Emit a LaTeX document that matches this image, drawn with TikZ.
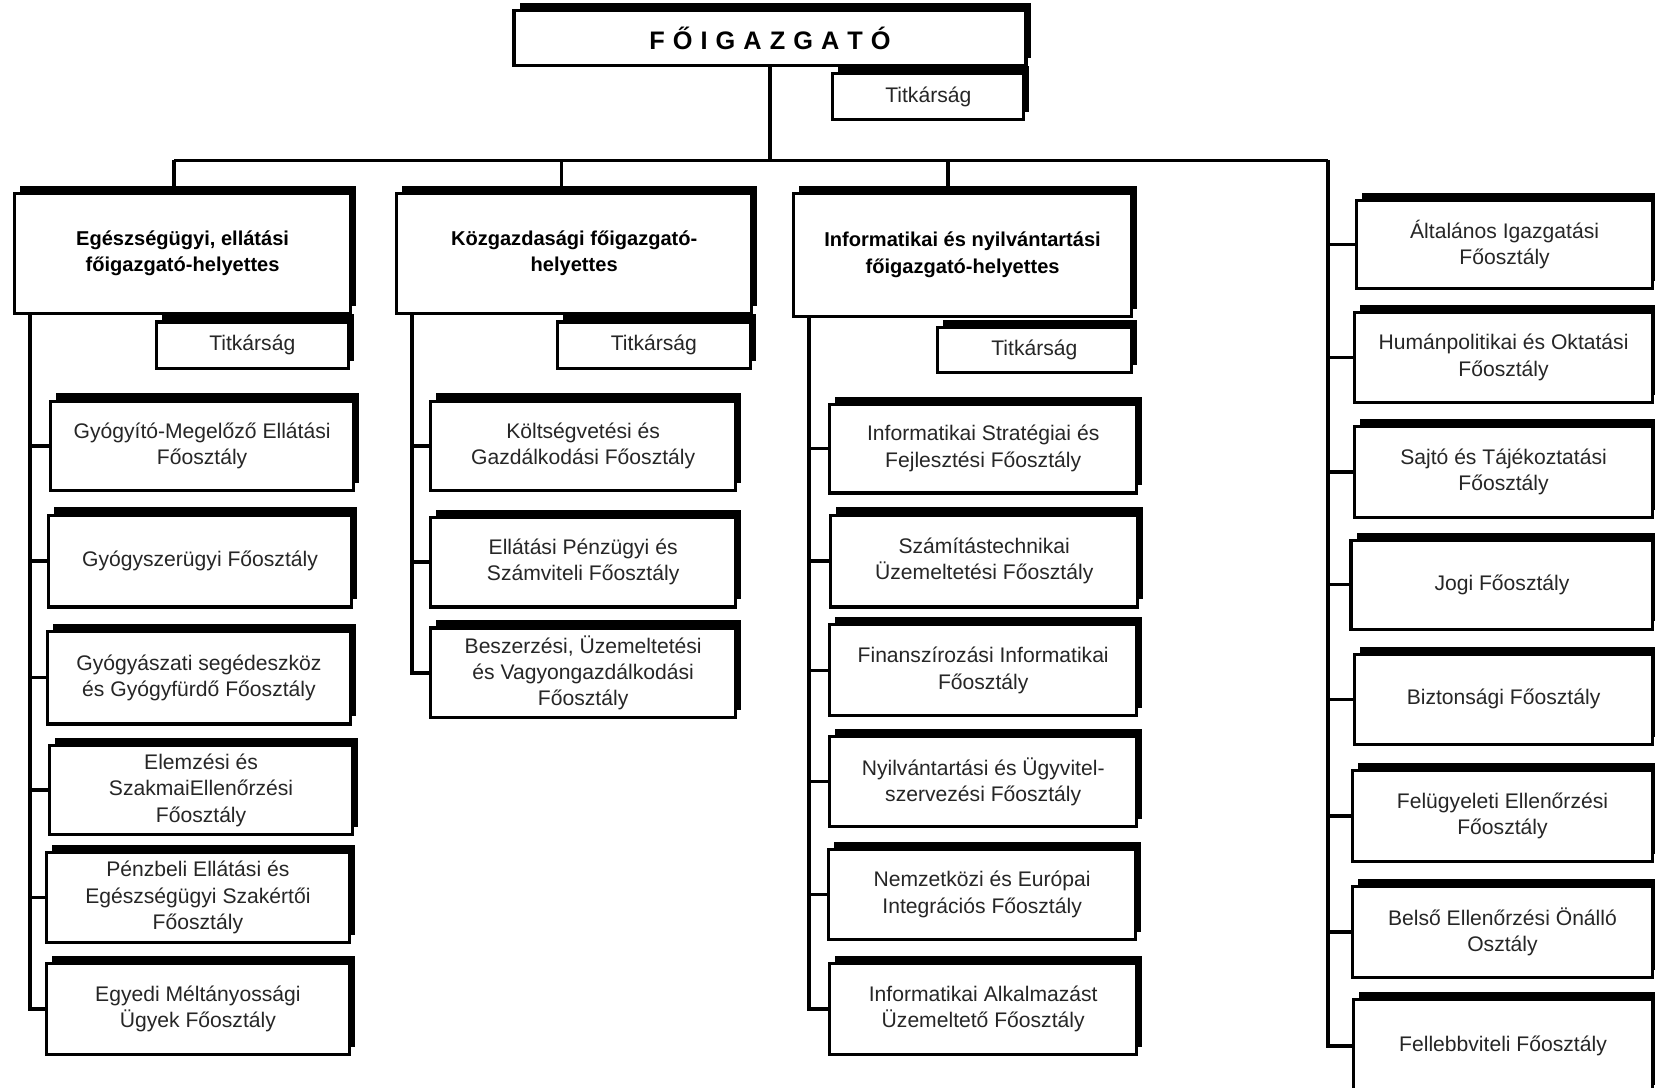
\documentclass[tikz,border=0pt]{standalone}
\usepackage{fontspec}
\setmainfont{Liberation Sans}
\usetikzlibrary{shadows}
\newcommand{\obox}[7][bx]{%
  \node[#1, minimum width={(#5-#3)*0.5pt}, minimum height={(#6-#4)*0.5pt}] (#2) at ({(#3+#5)/2},{(#4+#6)/2}) {#7};}
\newcommand{\lsp}{\kern 3.8pt}
\tikzset{
  bx/.style={draw, line width=1.5pt, fill=white, inner sep=0pt, align=center,
    font=\fontsize{10}{12.5}\selectfont, text=black!85,
    general shadow={fill=black, shadow xshift=2.6pt, shadow yshift=3.6pt}},
  hbx/.style={bx, font=\fontsize{9.5}{12.5}\selectfont\bfseries, text=black},
  topbx/.style={bx, font=\fontsize{12}{14}\selectfont\bfseries, text=black},
  conn/.style={line width=1.6pt},
}
\begin{document}
\begin{tikzpicture}[x=0.5pt, y=-0.5pt]
\useasboundingbox (0,0) rectangle (1568,1030);
\clip (0,0) rectangle (1568,1030);
\fill[white] (0,0) rectangle (1568,1030);

% top
\obox[topbx]{main}{487}{10}{972}{62}{F\lsp Ő\lsp I\lsp G\lsp A\lsp Z\lsp G\lsp A\lsp T\lsp Ó}
\obox{tsec}{789}{70}{970}{113}{Titkárság}

% headers
\obox[hbx]{h1}{14}{183}{332}{297}{Egészségügyi, ellátási\\főigazgató-helyettes}
\obox[hbx]{h2}{376}{183}{712}{297}{Közgazdasági főigazgató-\\helyettes}
\obox[hbx]{h3}{752}{183}{1072}{300}{Informatikai és nyilvántartási\\főigazgató-helyettes}

\obox{s1}{148}{305}{330}{349}{Titkárság}
\obox{s2}{528}{305}{711}{349}{Titkárság}
\obox{s3}{888}{310}{1072}{353}{Titkárság}

% column 1
\obox{c11}{48}{380}{335}{465}{Gyógyító-Megelőző Ellátási\\Főosztály}
\obox{c12}{46}{488}{333}{575}{Gyógyszerügyi Főosztály}
\obox{c13}{45}{598}{332}{686}{Gyógyászati segédeszköz\\és Gyógyfürdő Főosztály}
\obox{c14}{47}{706}{334}{791}{Elemzési és\\SzakmaiEllenőrzési\\Főosztály}
\obox{c15}{44}{808}{331}{893}{Pénzbeli Ellátási és\\Egészségügyi Szakértői\\Főosztály}
\obox{c16}{44}{913}{331}{999}{Egyedi Méltányossági\\Ügyek Főosztály}

% column 2
\obox{c21}{408}{380}{697}{465}{Költségvetési és\\Gazdálkodási Főosztály}
\obox{c22}{408}{490}{697}{575}{Ellátási Pénzügyi és\\Számviteli Főosztály}
\obox{c23}{408}{595}{697}{680}{Beszerzési, Üzemeltetési\\és Vagyongazdálkodási\\Főosztály}

% column 3
\obox{c31}{786}{383}{1077}{467}{Informatikai Stratégiai és\\Fejlesztési Főosztály}
\obox{c32}{787}{488}{1078}{575}{Számítástechnikai\\Üzemeltetési Főosztály}
\obox{c33}{786}{592}{1077}{678}{Finanszírozási Informatikai\\Főosztály}
\obox{c34}{786}{698}{1077}{783}{Nyilvántartási és Ügyvitel-\\szervezési Főosztály}
\obox{c35}{785}{805}{1076}{890}{Nemzetközi és Európai\\Integrációs Főosztály}
\obox{c36}{786}{913}{1077}{999}{Informatikai Alkalmazást\\Üzemeltető Főosztály}

% right column
\obox{r1}{1285}{190}{1566}{273}{Általános Igazgatási\\Főosztály}
\obox{r2}{1283}{296}{1566}{381}{Humánpolitikai és Oktatási\\Főosztály}
\obox{r3}{1283}{404}{1566}{490}{Sajtó és Tájékoztatási\\Főosztály}
\obox{r4}{1280}{512}{1566}{596}{Jogi Főosztály}
\obox{r5}{1283}{620}{1566}{705}{Biztonsági Főosztály}
\obox{r6}{1281}{730}{1566}{816}{Felügyeleti Ellenőrzési\\Főosztály}
\obox{r7}{1281}{840}{1566}{926}{Belső Ellenőrzési Önálló\\Osztály}
\obox{r8}{1282}{947}{1566}{1035}{Fellebbviteli Főosztály}

% connectors
\coordinate (bL) at (165,152);
\coordinate (b2) at (532,152);
\coordinate (b3) at (898,152);
\coordinate (bR) at (1258,152);
\draw[conn] (main.south) -- (main.south |- bL);
\draw[conn] (bL) -- (bR);
\draw[conn] (bL) -- (bL |- h1.north);
\draw[conn] (b2) -- (b2 |- h2.north);
\draw[conn] (b3) -- (b3 |- h3.north);

\path (h1.south west) ++(16,0) coordinate (k1);
\path (h2.south west) ++(16,0) coordinate (k2);
\path (h3.south west) ++(16,0) coordinate (k3);
\foreach \c in {c11,c12,c13,c14,c15,c16} \draw[conn] (k1) |- (\c.west);
\foreach \c in {c21,c22,c23} \draw[conn] (k2) |- (\c.west);
\foreach \c in {c31,c32,c33,c34,c35,c36} \draw[conn] (k3) |- (\c.west);
\foreach \c in {r1,r2,r3,r4,r5,r6,r7,r8} \draw[conn] (bR) |- (\c.west);
\end{tikzpicture}
\end{document}
